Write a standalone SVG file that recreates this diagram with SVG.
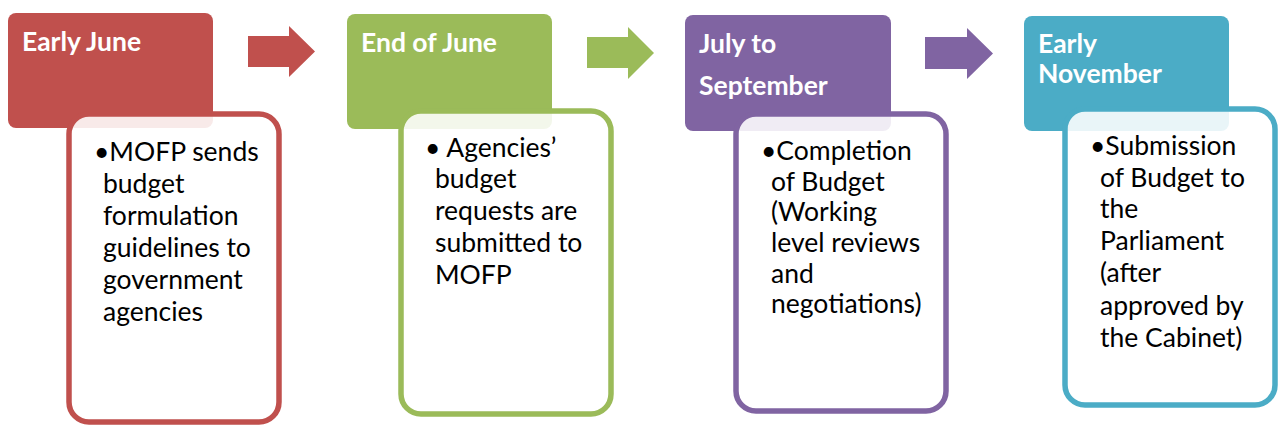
<svg xmlns="http://www.w3.org/2000/svg" width="1282" height="441" viewBox="0 0 1282 441">
  <style>
    .hdr-text { font-family: Lato, "Open Sans", "Liberation Sans", sans-serif; font-weight: 700; font-size: 26.5px; fill: #ffffff; }
    .body-text { font-family: Lato, "Open Sans", "Liberation Sans", sans-serif; font-size: 26.5px; fill: #000000; }
    .card { fill: #ffffff; fill-opacity: 0.88; stroke-width: 5.5; }
    .red .hdr { fill: #C0504D; }
    .red .card { stroke: #C0504D; }
    .green .hdr { fill: #9BBB59; }
    .green .card { stroke: #9BBB59; }
    .purple .hdr { fill: #8064A2; }
    .purple .card { stroke: #8064A2; }
    .teal .hdr { fill: #4BACC6; }
    .teal .card { stroke: #4BACC6; }
  </style>

  <!-- Stage 1 -->
  <g id="early-june" class="red">
    <rect class="hdr" x="8" y="13" width="205" height="115" rx="8"/>
    <text class="hdr-text" x="22" y="51">Early June</text>
    <rect class="card" x="69" y="114" width="210" height="308" rx="20"/>
    <text class="body-text">
      <tspan x="94" y="161">•MOFP sends</tspan>
      <tspan x="103" y="193">budget</tspan>
      <tspan x="103" y="225">formulation</tspan>
      <tspan x="103" y="257">guidelines to</tspan>
      <tspan x="103" y="289">government</tspan>
      <tspan x="103" y="321">agencies</tspan>
    </text>
  </g>

  <!-- Stage 2 -->
  <g id="end-of-june" class="green">
    <rect class="hdr" x="347" y="14" width="205" height="115" rx="8"/>
    <text class="hdr-text" x="361" y="52">End of June</text>
    <rect class="card" x="401" y="111" width="210" height="303" rx="20"/>
    <text class="body-text">
      <tspan x="425" y="157">• Agencies’</tspan>
      <tspan x="435" y="188">budget</tspan>
      <tspan x="435" y="220">requests are</tspan>
      <tspan x="435" y="252">submitted to</tspan>
      <tspan x="435" y="284">MOFP</tspan>
    </text>
  </g>

  <!-- Stage 3 -->
  <g id="july-to-september" class="purple">
    <rect class="hdr" x="685" y="15" width="206" height="116" rx="8"/>
    <text class="hdr-text">
      <tspan x="699" y="53">July to</tspan>
      <tspan x="699" y="95">September</tspan>
    </text>
    <rect class="card" x="736" y="114" width="210" height="297" rx="20"/>
    <text class="body-text">
      <tspan x="761" y="160">•Completion</tspan>
      <tspan x="771" y="191">of Budget</tspan>
      <tspan x="771" y="221">(Working</tspan>
      <tspan x="771" y="252">level reviews</tspan>
      <tspan x="771" y="283">and</tspan>
      <tspan x="771" y="313">negotiations)</tspan>
    </text>
  </g>

  <!-- Stage 4 -->
  <g id="early-november" class="teal">
    <rect class="hdr" x="1024" y="16" width="205" height="115" rx="8"/>
    <text class="hdr-text">
      <tspan x="1038" y="53">Early</tspan>
      <tspan x="1038" y="83">November</tspan>
    </text>
    <rect class="card" x="1065" y="109" width="210" height="296" rx="20"/>
    <text class="body-text">
      <tspan x="1090" y="155">•Submission</tspan>
      <tspan x="1100" y="187">of Budget to</tspan>
      <tspan x="1100" y="218">the</tspan>
      <tspan x="1100" y="250">Parliament</tspan>
      <tspan x="1100" y="282">(after</tspan>
      <tspan x="1100" y="315">approved by</tspan>
      <tspan x="1100" y="347">the Cabinet)</tspan>
    </text>
  </g>

  <!-- Block arrows between stages -->
  <g id="connectors">
    <path d="M248 36 H289 V26 L315 51.5 L289 77 V67 H248 Z" fill="#C0504D"/>
    <path d="M587 37 H628 V27 L654 53 L628 79 V68 H587 Z" fill="#9BBB59"/>
    <path d="M925 37 H967 V28 L993 53.5 L967 79 V69 H925 Z" fill="#8064A2"/>
  </g>
</svg>
